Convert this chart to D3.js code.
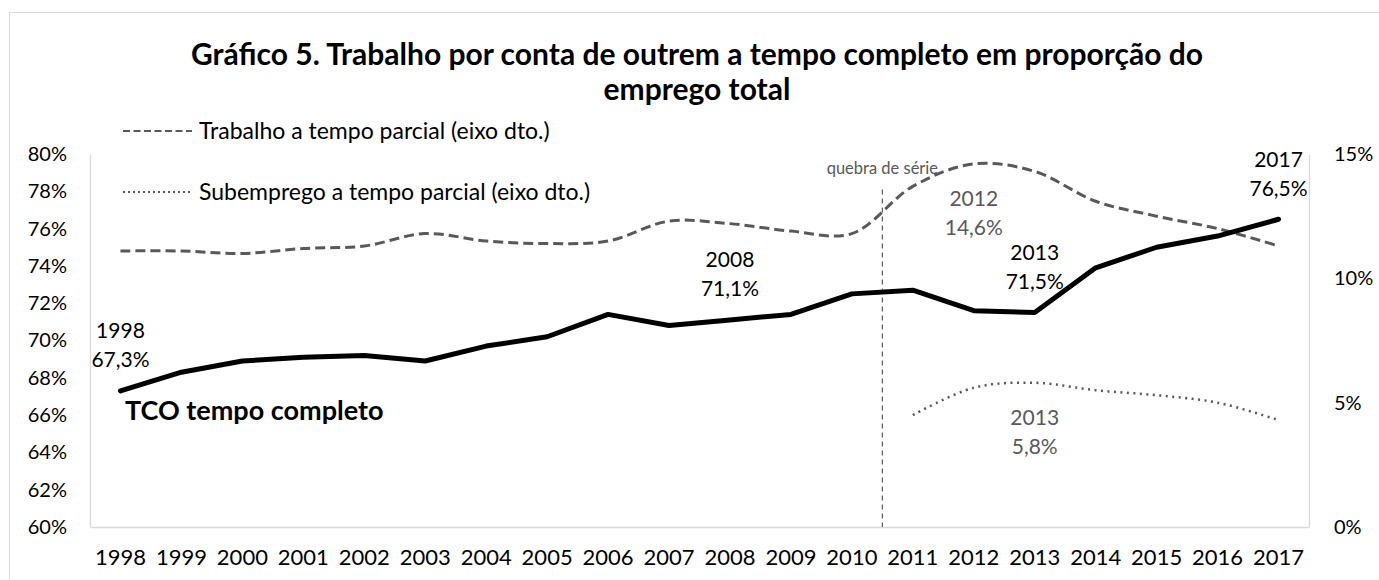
<!DOCTYPE html>
<html><head><meta charset="utf-8">
<script src="https://cdn.jsdelivr.net/npm/d3@7"></script>
<style>
body{margin:0;background:#fff}
text{font-family:Lato,'Open Sans',sans-serif}
</style>
</head><body>
<svg id="c" width="1379" height="580"></svg>
<script>
// ---- data ----
const years = ["1998","1999","2000","2001","2002","2003","2004","2005","2006","2007","2008","2009","2010","2011","2012","2013","2014","2015","2016","2017"];
const tcoTempoCompleto = [67.3,68.3,68.9,69.1,69.2,68.9,69.7,70.2,71.4,70.8,71.1,71.4,72.5,72.7,71.6,71.5,73.9,75.0,75.6,76.5];
const trabalhoParcial = [11.1,11.1,11.0,11.2,11.3,11.8,11.5,11.4,11.5,12.3,12.2,11.9,11.8,13.7,14.6,14.3,13.1,12.5,12.0,11.3];
const subempregoParcial = [null,null,null,null,null,null,null,null,null,null,null,null,null,4.5,5.6,5.8,5.5,5.3,5.0,4.3];
const leftTicks = [60,62,64,66,68,70,72,74,76,78,80];
const rightTicks = [0,5,10,15];
const breakYear = "2011";
const breakTop = 78.1;
const titleLines = ["Gráfico 5. Trabalho por conta de outrem a tempo completo em proporção do","emprego total"];
const legendLabels = ["Trabalho a tempo parcial (eixo dto.)","Subemprego a tempo parcial (eixo dto.)"];
// annotations: [year, series, line1, line2, side]
const annotations = [
  ["1998","tco","1998","67,3%","above"],
  ["2008","tco","2008","71,1%","above"],
  ["2013","tco","2013","71,5%","above"],
  ["2017","tco","2017","76,5%","above"],
  ["2012","parcial","2012","14,6%","below"],
  ["2013","sub","2013","5,8%","below"]
];

// ---- layout ----
const W = 1379, H = 580;
const plot = {left:90, right:1309, top:154, bottom:527};
const svg = d3.select("#c");

// chart border (top & left)
svg.append("rect").attr("x",9.5).attr("y",12.5).attr("width",W+20).attr("height",H+20)
  .attr("fill","none").attr("stroke","#d9d9d9").attr("stroke-width",1);

const x = d3.scaleBand().domain(years).range([plot.left, plot.right]).padding(0);
const xc = d => x(d) + x.bandwidth()/2;
const yL = d3.scaleLinear().domain([60,80]).range([plot.bottom, plot.top]);
const yR = d3.scaleLinear().domain([0,15]).range([plot.bottom, plot.top]);

// axes
const gL = svg.append("g").attr("transform",`translate(${plot.left},0)`)
  .call(d3.axisLeft(yL).tickValues(leftTicks).tickFormat(d=>d+"%").tickSize(0).tickPadding(23));
const gR = svg.append("g").attr("transform",`translate(${plot.right},0)`)
  .call(d3.axisRight(yR).tickValues(rightTicks).tickFormat(d=>d+"%").tickSize(0).tickPadding(25));
const gB = svg.append("g").attr("transform",`translate(0,${plot.bottom})`)
  .call(d3.axisBottom(x).tickSize(0).tickPadding(22));
[gL,gR,gB].forEach(g=>{
  g.select(".domain").attr("stroke","#d9d9d9").attr("stroke-width",1.3);
  g.selectAll("text").attr("font-size",20).attr("fill","#000").style("font-family","Lato,'Open Sans',sans-serif");
});
gB.selectAll("text").attr("font-size",22);

// break line
svg.append("line").attr("x1",x(breakYear)).attr("x2",x(breakYear))
  .attr("y1",yL(breakTop)).attr("y2",plot.bottom)
  .attr("stroke","#595959").attr("stroke-width",1.2).attr("stroke-dasharray","5,4");
svg.append("text").attr("x",x(breakYear)).attr("y",yL(breakTop)-15)
  .attr("text-anchor","middle").attr("font-size",16.5).attr("fill","#595959").text("quebra de série");

// lines
const idx = years.map((d,i)=>i);
const lineParcial = d3.line().defined(i=>trabalhoParcial[i]!=null)
  .x(i=>xc(years[i])).y(i=>yR(trabalhoParcial[i])).curve(d3.curveCatmullRom.alpha(0.5));
const lineSub = d3.line().defined(i=>subempregoParcial[i]!=null)
  .x(i=>xc(years[i])).y(i=>yR(subempregoParcial[i])).curve(d3.curveCatmullRom.alpha(0.5));
const lineTco = d3.line().x(i=>xc(years[i])).y(i=>yL(tcoTempoCompleto[i]));

svg.append("path").attr("d",lineParcial(idx)).attr("fill","none")
  .attr("stroke","#595959").attr("stroke-width",3).attr("stroke-dasharray","10,5");
svg.append("path").attr("d",lineSub(idx)).attr("fill","none")
  .attr("stroke","#595959").attr("stroke-width",2.5).attr("stroke-dasharray","2,4.5").attr("stroke-linecap","butt");
svg.append("path").attr("d",lineTco(idx)).attr("fill","none")
  .attr("stroke","#000").attr("stroke-width",5).attr("stroke-linejoin","round").attr("stroke-linecap","round");

// title
svg.selectAll("text.title").data(titleLines).join("text").attr("class","title")
  .attr("x",697).attr("y",(d,i)=>65+i*35).attr("text-anchor","middle")
  .attr("font-size",30).attr("font-weight",700).attr("fill","#000").text(d=>d);

// legend
const leg = [
  {label:legendLabels[0], x1:123, x2:192, y:131, dash:"7,3.5", w:2.2},
  {label:legendLabels[1], x1:123, x2:192, y:192, dash:"2,3", w:2}
];
leg.forEach(l=>{
  svg.append("line").attr("x1",l.x1).attr("x2",l.x2).attr("y1",l.y).attr("y2",l.y)
    .attr("stroke","#595959").attr("stroke-width",l.w).attr("stroke-dasharray",l.dash);
  svg.append("text").attr("x",l.x2+7).attr("y",l.y).attr("dy","0.35em")
    .attr("font-size",23).attr("fill","#000").text(l.label);
});

// TCO label
svg.append("text").attr("x",125).attr("y",411).attr("dy","0.35em")
  .attr("font-size",27).attr("font-weight",700).attr("fill","#000").text("TCO tempo completo");

// annotations
annotations.forEach(a=>{
  const i = years.indexOf(a[0]);
  let py, col;
  if(a[1]==="tco"){py=yL(tcoTempoCompleto[i]); col="#000";}
  else if(a[1]==="parcial"){py=yR(trabalhoParcial[i]); col="#595959";}
  else {py=yR(subempregoParcial[i]); col="#595959";}
  const off = a[4]==="above" ? [-60,-31] : [35,64];
  [a[2],a[3]].forEach((t,k)=>{
    svg.append("text").attr("x",xc(a[0])).attr("y",py+off[k]).attr("dy","0.35em")
      .attr("text-anchor","middle").attr("font-size",21).attr("fill",col).text(t);
  });
});
</script>
</body></html>
